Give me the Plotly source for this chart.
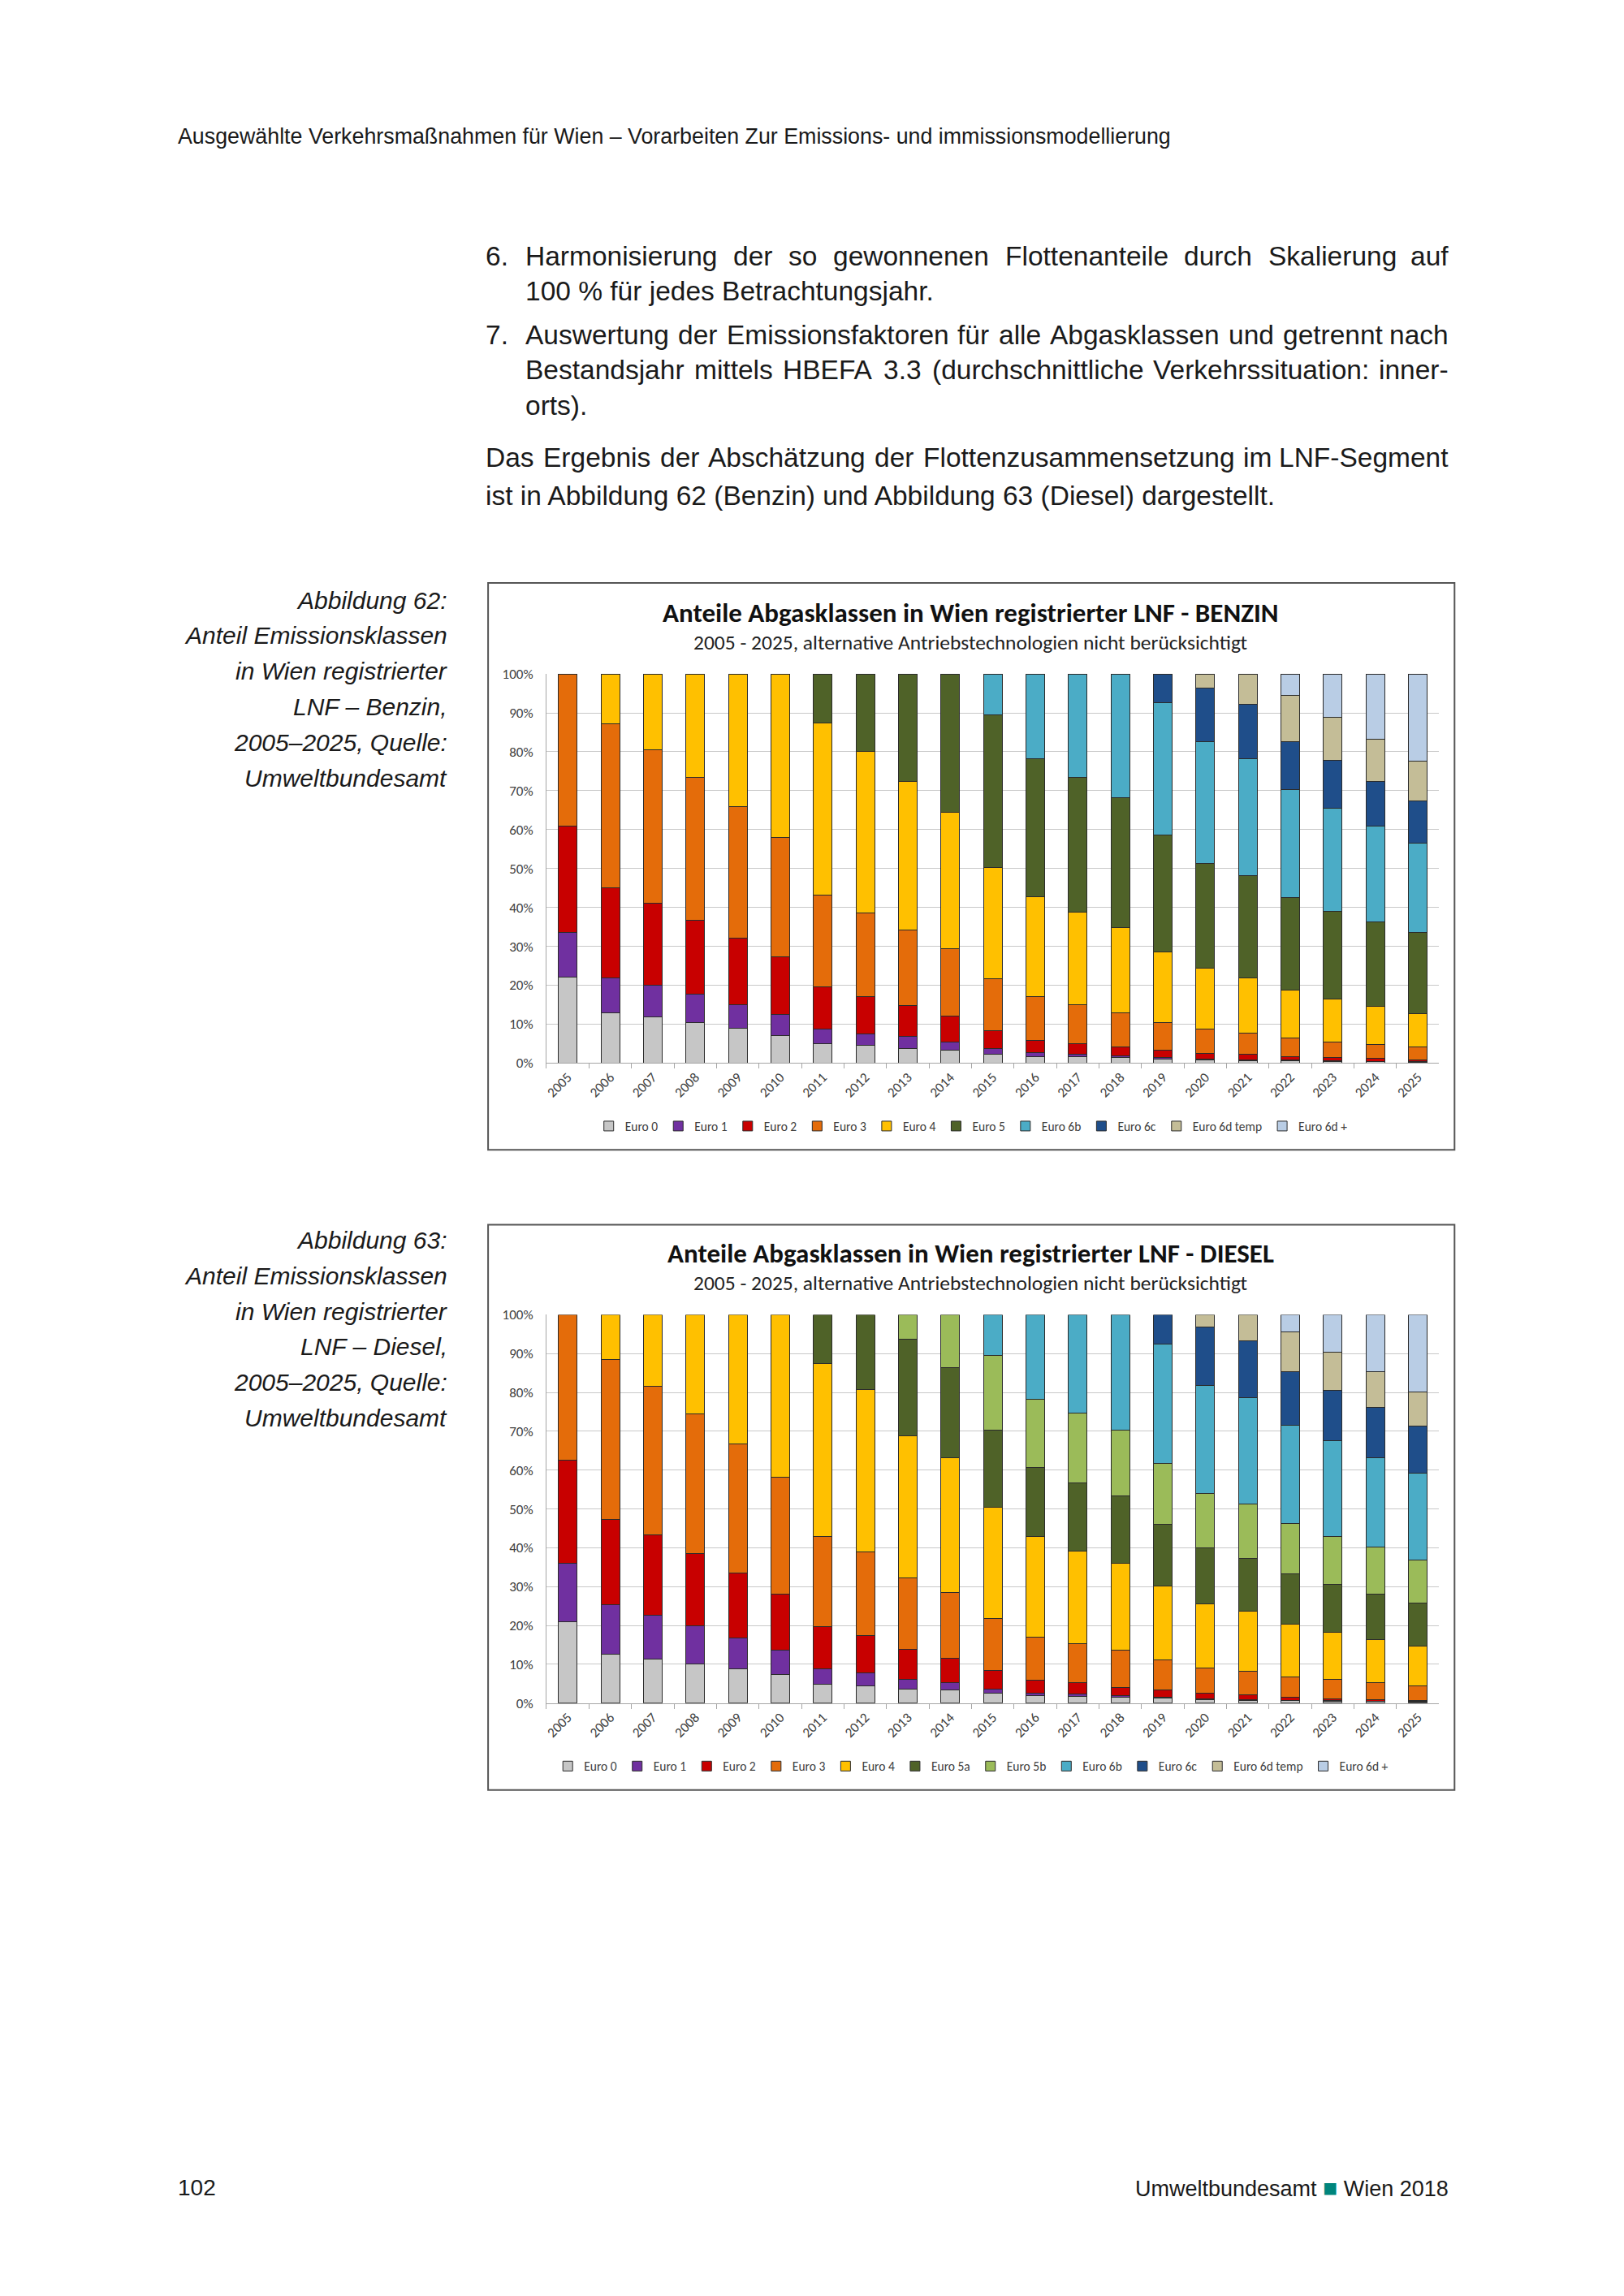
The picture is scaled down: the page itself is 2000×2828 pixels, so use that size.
import plotly.graph_objects as go

# page is 2000x2828; the browser body keeps its default 8px margin,
# so the figure is 16px smaller and all page coordinates are shifted by 8px.
PAGE_MARGIN = 8
W, H = 2000 - 2 * PAGE_MARGIN, 2828 - 2 * PAGE_MARGIN
# small vertical calibration of the capture (measured: rendered = 10.33 + 0.99208 * page)
CAL_A, CAL_B = 10.33, 0.99208


def px(x):
    return (x - PAGE_MARGIN) / W


def py(y):
    yp = (y - CAL_A) / CAL_B
    return 1 - (yp - PAGE_MARGIN) / H


# ---------------- data ----------------
years = ["2005", "2006", "2007", "2008", "2009", "2010", "2011", "2012", "2013", "2014",
         "2015", "2016", "2017", "2018", "2019", "2020", "2021", "2022", "2023", "2024", "2025"]

# Benzin (shares in %)
b_euro0 = [22.0, 13.0, 11.8, 10.3, 8.9, 7.1, 5.0, 4.5, 3.8, 3.4, 2.3, 1.7, 1.6, 1.4, 1.0, 0.7, 0.6, 0.5, 0.4, 0.3, 0.2]
b_euro1 = [11.6, 8.8, 8.1, 7.3, 6.1, 5.3, 3.7, 3.0, 3.0, 2.0, 1.4, 0.9, 0.7, 0.5, 0.4, 0.4, 0.3, 0.2, 0.2, 0.1, 0.1]
b_euro2 = [27.4, 23.3, 21.2, 19.1, 17.1, 14.8, 10.9, 9.6, 8.0, 6.6, 4.7, 3.3, 2.7, 2.3, 2.0, 1.4, 1.4, 0.9, 0.8, 0.8, 0.6]
b_euro3 = [39.0, 42.1, 39.4, 36.8, 33.8, 30.7, 23.5, 21.5, 19.3, 17.4, 13.2, 11.2, 10.0, 8.7, 7.0, 6.2, 5.3, 4.8, 4.0, 3.6, 3.3]
b_euro4 = [None, 12.8, 19.5, 26.5, 34.1, 42.1, 44.4, 41.4, 38.3, 35.1, 28.7, 25.7, 23.8, 22.0, 18.1, 15.6, 14.2, 12.3, 11.0, 9.8, 8.5]
b_euro5 = [None, None, None, None, None, None, 12.5, 20.0, 27.6, 35.5, 39.2, 35.5, 34.6, 33.4, 30.0, 26.9, 26.3, 23.9, 22.5, 21.7, 20.8]
b_euro6b = [None, None, None, None, None, None, None, None, None, None, 10.5, 21.7, 26.6, 31.7, 34.1, 31.3, 30.2, 27.6, 26.5, 24.5, 23.1]
b_euro6c = [None, None, None, None, None, None, None, None, None, None, None, None, None, None, 7.4, 13.9, 13.8, 12.5, 12.3, 11.6, 10.8]
b_euro6dtemp = [None, None, None, None, None, None, None, None, None, None, None, None, None, None, None, 3.6, 7.9, 11.7, 11.2, 10.8, 10.2]
b_euro6dplus = [None, None, None, None, None, None, None, None, None, None, None, None, None, None, None, None, None, 5.6, 11.1, 16.8, 22.4]

# Diesel (shares in %)
d_euro0 = [21.0, 12.5, 11.4, 10.0, 8.8, 7.4, 4.9, 4.5, 3.6, 3.3, 2.6, 1.9, 1.7, 1.4, 1.2, 0.9, 0.7, 0.6, 0.5, 0.4, 0.3]
d_euro1 = [15.1, 12.8, 11.2, 9.8, 8.0, 6.3, 3.9, 3.3, 2.6, 2.0, 1.0, 0.7, 0.7, 0.5, 0.3, 0.2, 0.2, 0.1, 0.1, 0.1, 0.1]
d_euro2 = [26.4, 22.1, 20.8, 18.8, 16.7, 14.4, 10.8, 9.6, 7.7, 6.3, 4.7, 3.3, 2.8, 2.2, 1.8, 1.5, 1.3, 0.7, 0.5, 0.4, 0.35]
d_euro3 = [37.5, 41.0, 38.2, 35.9, 33.2, 30.1, 23.4, 21.5, 18.4, 16.8, 13.5, 11.1, 10.2, 9.6, 7.8, 6.4, 5.9, 5.3, 5.1, 4.3, 3.75]
d_euro4 = [None, 11.6, 18.4, 25.5, 33.3, 41.8, 44.5, 41.8, 36.5, 34.7, 28.6, 26.0, 23.7, 22.4, 19.1, 16.5, 15.5, 13.6, 12.0, 11.1, 10.1]
d_euro5a = [None, None, None, None, None, None, 12.5, 19.3, 25.0, 23.2, 19.8, 17.6, 17.7, 17.2, 15.8, 14.4, 13.7, 13.0, 12.4, 11.8, 11.1]
d_euro5b = [None, None, None, None, None, None, None, None, 6.2, 13.7, 19.3, 17.7, 17.9, 17.0, 15.8, 14.1, 13.9, 12.9, 12.4, 12.1, 11.1]
d_euro6b = [None, None, None, None, None, None, None, None, None, None, 10.5, 21.7, 25.3, 29.7, 30.6, 27.8, 27.5, 25.4, 24.5, 22.9, 22.4]
d_euro6c = [None, None, None, None, None, None, None, None, None, None, None, None, None, None, 7.6, 15.1, 14.6, 13.7, 13.1, 13.1, 12.2]
d_euro6dtemp = [None, None, None, None, None, None, None, None, None, None, None, None, None, None, None, 3.1, 6.7, 10.2, 9.7, 9.1, 8.8]
d_euro6dplus = [None, None, None, None, None, None, None, None, None, None, None, None, None, None, None, None, None, 4.5, 9.7, 14.7, 19.8]

ytick_vals = [0, 10, 20, 30, 40, 50, 60, 70, 80, 90, 100]
ytick_text = ["0%", "10%", "20%", "30%", "40%", "50%", "60%", "70%", "80%", "90%", "100%"]

# ---------------- styles ----------------
C = {
    "Euro 0": "#c6c6c6",
    "Euro 1": "#7030a0",
    "Euro 2": "#c80000",
    "Euro 3": "#e46c0a",
    "Euro 4": "#ffc000",
    "Euro 5": "#4f6228",
    "Euro 5a": "#4f6228",
    "Euro 5b": "#9bbb59",
    "Euro 6b": "#4bacc6",
    "Euro 6c": "#1f4e8a",
    "Euro 6d temp": "#c4bd97",
    "Euro 6d +": "#b9cde5",
}

benzin = [("Euro 0", b_euro0), ("Euro 1", b_euro1), ("Euro 2", b_euro2), ("Euro 3", b_euro3),
          ("Euro 4", b_euro4), ("Euro 5", b_euro5), ("Euro 6b", b_euro6b), ("Euro 6c", b_euro6c),
          ("Euro 6d temp", b_euro6dtemp), ("Euro 6d +", b_euro6dplus)]
diesel = [("Euro 0", d_euro0), ("Euro 1", d_euro1), ("Euro 2", d_euro2), ("Euro 3", d_euro3),
          ("Euro 4", d_euro4), ("Euro 5a", d_euro5a), ("Euro 5b", d_euro5b), ("Euro 6b", d_euro6b),
          ("Euro 6c", d_euro6c), ("Euro 6d temp", d_euro6dtemp), ("Euro 6d +", d_euro6dplus)]

CHART_FONT = "Carlito, Lato, 'Open Sans', sans-serif"
BODY_FONT = "'Liberation Sans', Arial, Helvetica, sans-serif"
CAP_FONT = "'Liberation Sans', Arial, sans-serif"

fig = go.Figure()
for name, vals in benzin:
    fig.add_trace(go.Bar(x=years, y=vals, name=name, xaxis="x", yaxis="y", legend="legend",
                         marker=dict(color=C[name], line=dict(color="#2b2b2b", width=1))))
for name, vals in diesel:
    fig.add_trace(go.Bar(x=years, y=vals, name=name, xaxis="x2", yaxis="y2", legend="legend2",
                         marker=dict(color=C[name], line=dict(color="#2b2b2b", width=1))))


def xax(anchor):
    return dict(domain=[px(671), px(1772)], anchor=anchor, type="category",
                showline=True, linecolor="#a6a6a6", linewidth=1,
                ticks="outside", tickson="boundaries", ticklen=6, tickcolor="#a6a6a6",
                tickangle=-45, tickfont=dict(family=CHART_FONT, size=17, color="#404040"),
                showgrid=False, fixedrange=True)


def yax(anchor, top, bottom):
    return dict(domain=[py(bottom), py(top)], anchor=anchor, range=[0, 100],
                tickvals=ytick_vals, ticktext=ytick_text, showgrid=True, gridcolor="#c8c8c8",
                gridwidth=1, showline=True, linecolor="#a6a6a6", linewidth=1, zeroline=False,
                ticks="", ticklabelstandoff=12,
                tickfont=dict(family=CHART_FONT, size=17, color="#404040"),
                fixedrange=True)


fig.update_layout(
    width=W, height=H, margin=dict(l=0, r=0, t=0, b=0),
    paper_bgcolor="white", plot_bgcolor="white",
    barmode="stack", bargap=0.56,
    xaxis=xax("y"), yaxis=yax("x", 830, 1309),
    xaxis2=xax("y2"), yaxis2=yax("x2", 1619, 2097),
    legend=dict(orientation="h", x=px(1196), xanchor="center", y=py(1387), yanchor="middle",
                traceorder="normal", font=dict(family=CHART_FONT, size=15.5, color="#404040"),
                itemwidth=30, bgcolor="rgba(0,0,0,0)"),
    legend2=dict(orientation="h", x=px(1196), xanchor="center", y=py(2175), yanchor="middle",
                 traceorder="normal", font=dict(family=CHART_FONT, size=15.5, color="#404040"),
                 itemwidth=30, bgcolor="rgba(0,0,0,0)"),
)

shapes = []
for (top, bottom) in [(718, 1416), (1508, 2204)]:
    shapes.append(dict(type="rect", xref="paper", yref="paper", x0=px(599), x1=px(1791),
                       y0=py(bottom), y1=py(top), line=dict(color="#555555", width=2),
                       fillcolor="rgba(0,0,0,0)", layer="below"))
fig.update_layout(shapes=shapes)

# Arial / Liberation Sans advance widths (em) for justification
AW = {
    "a": .556, "b": .556, "c": .5, "d": .556, "e": .556, "f": .278, "g": .556, "h": .556, "i": .222,
    "j": .222, "k": .5, "l": .222, "m": .833, "n": .556, "o": .556, "p": .556, "q": .556, "r": .333,
    "s": .5, "t": .278, "u": .556, "v": .5, "w": .722, "x": .5, "y": .5, "z": .5,
    "ä": .556, "ö": .556, "ü": .556, "ß": .611,
    "A": .667, "B": .667, "C": .722, "D": .722, "E": .667, "F": .611, "G": .778, "H": .722, "I": .278,
    "J": .5, "K": .667, "L": .556, "M": .833, "N": .722, "O": .778, "P": .667, "Q": .778, "R": .722,
    "S": .667, "T": .611, "U": .722, "V": .667, "W": .944, "X": .667, "Y": .667, "Z": .611,
    " ": .278, ".": .278, ",": .278, ":": .278, "(": .333, ")": .333, "-": .333, "%": .889, "–": .556,
}


def em_width(s):
    return sum(AW.get(ch, .556) for ch in s)


ann = []


def text(x, y, s, size, family, anchor="left", color="#1a1a1a"):
    ann.append(dict(x=px(x), y=py(y), xref="paper", yref="paper", text=s, showarrow=False,
                    xanchor=anchor, yanchor="middle", align=anchor, borderpad=0,
                    font=dict(family=family, size=size, color=color)))


def justify(x0, x1, y, s, size, family):
    words = s.split(" ")
    widths = [em_width(w) * size for w in words]
    gap = (x1 - x0 - sum(widths)) / (len(words) - 1)
    x = x0
    for i, (w, wd) in enumerate(zip(words, widths)):
        if i == len(words) - 1:
            text(x1, y, w, size, family, anchor="right")
        else:
            text(x, y, w, size, family, anchor="left")
        x += wd + gap


BS = 33.5
# header
header = "Ausgewählte Verkehrsmaßnahmen für Wien – Vorarbeiten Zur Emissions- und immissionsmodellierung"
text(215, 168, header, round(1228 / em_width(header), 1), BODY_FONT)

# body text
text(595, 316, "6.", BS, BODY_FONT)
justify(644, 1785, 316, "Harmonisierung der so gewonnenen Flottenanteile durch Skalierung auf", BS, BODY_FONT)
text(644, 359, "100 % für jedes Betrachtungsjahr.", BS, BODY_FONT)
text(595, 413, "7.", BS, BODY_FONT)
justify(644, 1785, 413, "Auswertung der Emissionsfaktoren für alle Abgasklassen und getrennt nach", BS, BODY_FONT)
justify(644, 1785, 456, "Bestandsjahr mittels HBEFA 3.3 (durchschnittliche Verkehrssituation: inner-", BS, BODY_FONT)
text(644, 500, "orts).", BS, BODY_FONT)
justify(595, 1785, 564, "Das Ergebnis der Abschätzung der Flottenzusammensetzung im LNF-Segment", BS, BODY_FONT)
text(595, 610, "ist in Abbildung 62 (Benzin) und Abbildung 63 (Diesel) dargestellt.", BS, BODY_FONT)

# captions
cap1 = ["Abbildung 62:", "Anteil Emissionsklassen", "in Wien registrierter", "LNF – Benzin,",
        "2005–2025, Quelle:", "Umweltbundesamt"]
cap2 = ["Abbildung 63:", "Anteil Emissionsklassen", "in Wien registrierter", "LNF – Diesel,",
        "2005–2025, Quelle:", "Umweltbundesamt"]
for i, line in enumerate(cap1):
    text(550, 739 + i * 43.8, "<i>" + line + "</i>", 30, CAP_FONT, anchor="right")
for i, line in enumerate(cap2):
    text(550, 1527 + i * 43.8, "<i>" + line + "</i>", 30, CAP_FONT, anchor="right")

# chart titles
text(1194, 755, "<b>Anteile Abgasklassen in Wien registrierter LNF - BENZIN</b>", 33, CHART_FONT,
     anchor="center", color="#111111")
text(1194, 791, "2005 - 2025, alternative Antriebstechnologien nicht berücksichtigt", 25.5, CHART_FONT,
     anchor="center", color="#222222")
text(1194, 1544, "<b>Anteile Abgasklassen in Wien registrierter LNF - DIESEL</b>", 33, CHART_FONT,
     anchor="center", color="#111111")
text(1194, 1580, "2005 - 2025, alternative Antriebstechnologien nicht berücksichtigt", 25.5, CHART_FONT,
     anchor="center", color="#222222")

# footer
text(215, 2694, "102", 28, BODY_FONT)
text(1785, 2694, "Umweltbundesamt <span style='color:#00857c;font-size:30px'>■</span> Wien 2018", 27,
     BODY_FONT, anchor="right")

fig.update_layout(annotations=ann)

fig.write_html("out.html", config={"displayModeBar": False})
